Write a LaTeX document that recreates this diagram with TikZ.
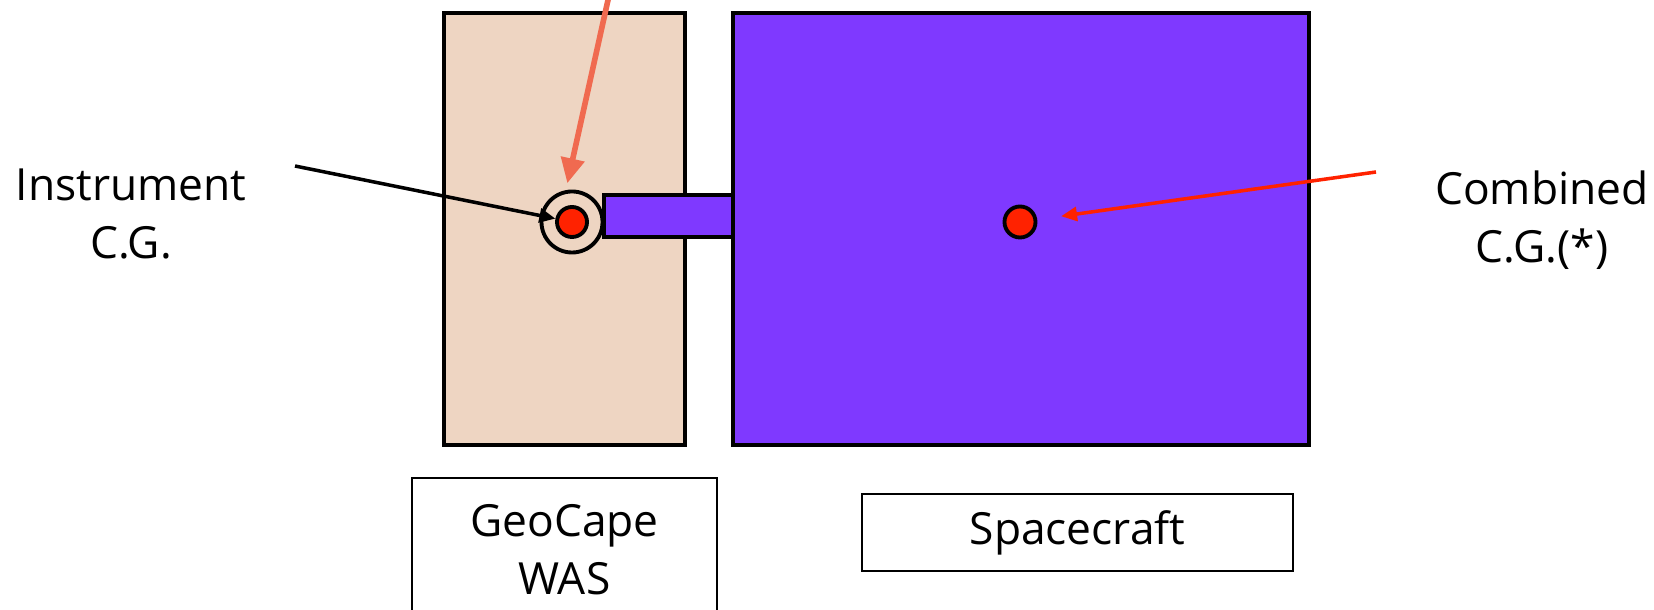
\documentclass[tikz,border=0pt]{standalone}
\usepackage{fontspec}
\setmainfont{Open Sans}
\usetikzlibrary{arrows.meta,positioning}
\definecolor{wasbeige}{RGB}{238,213,194}
\definecolor{scpurple}{RGB}{127,57,255}
\definecolor{cgred}{RGB}{255,34,0}
\definecolor{pointer}{RGB}{240,106,80}

\begin{document}
\begin{tikzpicture}[
      x=0.01cm, y=-0.01cm,
      font={\fontsize{12.6}{16.4}\selectfont},
      body/.style={draw, line width=1.3pt},
      dot/.style={circle, draw, line width=1.1pt, fill=cgred, inner sep=0pt,
                  minimum size=0.3cm},
      lbl/.style={draw, line width=0.7pt, align=center, inner sep=0pt},
      a/.style={-{Triangle[length=1.6mm,width=1.4mm]}, line width=1pt},
    ]
    \clip (0,0) rectangle (1654,610);
    % instrument, arm and spacecraft bodies
    \draw[body, fill=wasbeige] (444,13) rectangle (685,445);
    \draw[body, line width=1pt, fill=scpurple] (604,195) rectangle (740,237);
    \draw[body, fill=scpurple] (733,13) rectangle (1309,445);
    % centres of gravity
    \node[circle, draw, line width=1.1pt, minimum size=0.61cm, inner sep=0pt] (ring) at (572,222) {};
    \node[dot] (icg) at (572,222) {};
    \node[dot, minimum size=0.31cm] (ccg) at (1020,222) {};
    % labels
    \node[align=center] (inst) at (131,214) {Instrument\\C.G.};
    \node[align=center] (comb) at (1542,220) {Combined\\C.G.(*)};
    \node[lbl, minimum width=3.05cm, minimum height=1.44cm] (was) at (564.5,550) {GeoCape\\WAS};
    \node[lbl, minimum width=4.31cm, minimum height=0.77cm] (sc) at (1077.5,532.5) {Spacecraft};

    \coordinate (instend) at (295,166);
    \coordinate (combend) at (1376,172);
    \coordinate (topend)  at (612,-18);
    \draw[a] (instend) -- (icg);
    \draw[a, cgred, shorten >=0.24cm] (combend) -- (ccg);
    \draw[-{Triangle[length=2.5mm,width=2.3mm]}, line width=1.6pt, pointer,
          shorten >=0.07cm] (topend) -- (ring.101);
  \end{tikzpicture}
\end{document}
